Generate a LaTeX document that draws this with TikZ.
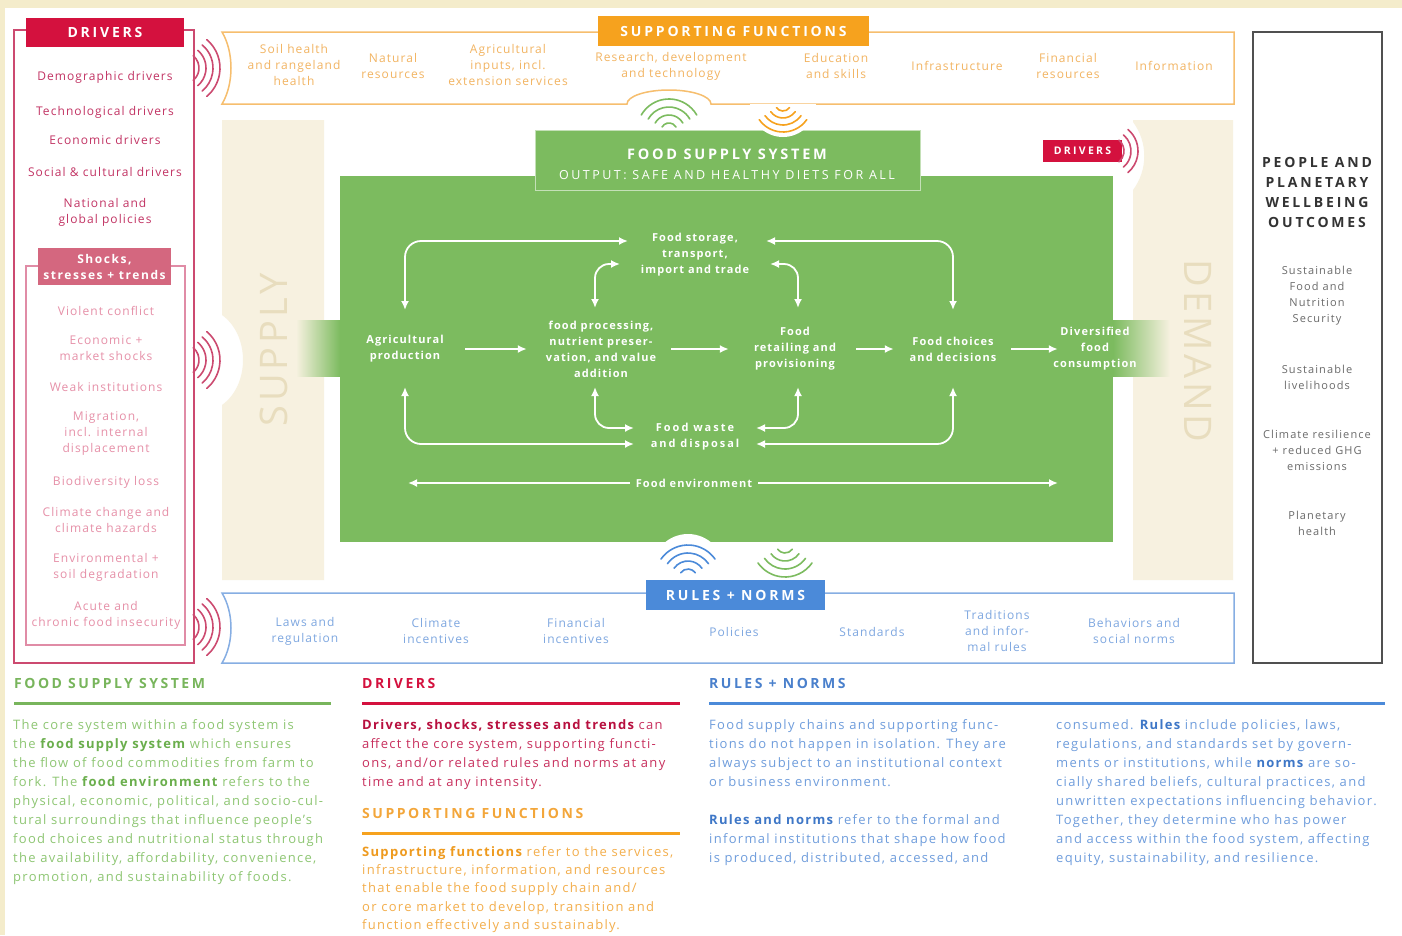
\documentclass[tikz,border=0pt]{standalone}
\usepackage{fontspec}
\setmainfont{Open Sans}
\usetikzlibrary{arrows.meta,positioning}
\definecolor{edgebg}{HTML}{F4ECCB}
\definecolor{drvred}{HTML}{D4113E}
\definecolor{drvline}{HTML}{CC4A70}
\definecolor{drvtxt}{HTML}{C23464}
\definecolor{shkred}{HTML}{D4677F}
\definecolor{shkline}{HTML}{E08CA6}
\definecolor{shktxt}{HTML}{E690A8}
\definecolor{suporange}{HTML}{F6A21E}
\definecolor{supline}{HTML}{F6BE6E}
\definecolor{suptxt}{HTML}{F2B462}
\definecolor{fsgreen}{HTML}{7CBB5F}
\definecolor{panelbg}{HTML}{F7F1E0}
\definecolor{paneltxt}{HTML}{E8DDBE}
\definecolor{rulblue}{HTML}{4B8AD9}
\definecolor{rulline}{HTML}{86AEE3}
\definecolor{rultxt}{HTML}{7EA7E0}
\definecolor{outgray}{HTML}{505050}
\definecolor{outhead}{HTML}{333333}
\definecolor{outtxt}{HTML}{6A6A6A}
\definecolor{hdgreen}{HTML}{78B55C}
\definecolor{bodygreen}{HTML}{8EC673}
\definecolor{boldgreen}{HTML}{6AAE4C}
\definecolor{bodyred}{HTML}{C8305E}
\definecolor{boldred}{HTML}{B8103F}
\definecolor{hdorange}{HTML}{F3A63A}
\definecolor{bodyorange}{HTML}{F3AE4C}
\definecolor{boldorange}{HTML}{EE9A1E}
\definecolor{hdblue}{HTML}{4A80CC}
\definecolor{bodyblue}{HTML}{6F9DDC}
\definecolor{boldblue}{HTML}{3E77C7}
\begin{document}
\begin{tikzpicture}[x=1pt,y=-1pt,
  every node/.style={inner sep=0pt},
  headbox/.style={fill=#1,text=white,font=\fontsize{14}{14}\selectfont\bfseries\addfontfeature{LetterSpace=20}},
  drvitem/.style={text=drvtxt,align=center,font=\fontsize{12}{16}\selectfont\addfontfeature{LetterSpace=9}},
  shkitem/.style={text=shktxt,align=center,font=\fontsize{12}{16}\selectfont\addfontfeature{LetterSpace=9}},
  supitem/.style={text=suptxt,align=center,font=\fontsize{12}{16}\selectfont\addfontfeature{LetterSpace=9}},
  rulitem/.style={text=rultxt,align=center,font=\fontsize{12}{16}\selectfont\addfontfeature{LetterSpace=9}},
  outitem/.style={text=outtxt,align=center,font=\fontsize{11}{16}\selectfont\addfontfeature{LetterSpace=10}},
  fsnode/.style={text=white,align=center,font=\fontsize{11}{16}\selectfont\bfseries\addfontfeature{LetterSpace=10}},
  flowarrow/.style={draw=white,line width=1.8pt,-{Latex[length=9pt,width=8pt]}},
  cycleflow/.style={draw=white,line width=1.8pt,{Latex[length=9pt,width=8pt]}-{Latex[length=9pt,width=8pt]},rounded corners=16pt},
  wavearc/.style={line width=1.6pt,line cap=round},
  bodyhead/.style={anchor=west,font=\fontsize{14}{14}\selectfont\bfseries\addfontfeature{LetterSpace=18}},
  bodytext/.style={anchor=north west,align=left,font=\fontsize{13}{19}\selectfont\addfontfeature{LetterSpace=10}}]
\useasboundingbox (0,0) rectangle (1402,935);
\clip (0,0) rectangle (1402,935);
\fill[edgebg] (0,0) rectangle (1402,935);
\fill[white] (5,8) rectangle (1402,935);

\draw[drvline,line width=1.5pt] (14,30) rectangle (194,663);
\draw[shkline,line width=1.2pt] (26,266) rectangle (185,645);
\node[headbox=drvred,minimum width=158pt,minimum height=29pt] (drvhead) at (105,32.5) {DRIVERS};
\node[headbox=shkred,minimum width=133pt,minimum height=37pt,align=center,font=\fontsize{12}{16}\selectfont\bfseries\addfontfeature{LetterSpace=13}] (shkhead) at (104.5,266.5) {Shocks,\\stresses + trends};

\node[drvitem] (demo) at (105,77) {Demographic drivers};
\node[drvitem] (techno) at (105,112) {Technological drivers};
\node[drvitem] (econ) at (105,140) {Economic drivers};
\node[drvitem] (social) at (105,172) {Social \& cultural drivers};
\node[drvitem] (policy) at (105,212) {National and\\global policies};

\node[shkitem] (conflict) at (106,311) {Violent conflict};
\node[shkitem] (market) at (106,348) {Economic +\\market shocks};
\node[shkitem] (weak) at (106,387) {Weak institutions};
\node[shkitem] (migr) at (106,434) {Migration,\\incl. internal\\displacement};
\node[shkitem] (biodiv) at (106,482) {Biodiversity loss};
\node[shkitem] (climate) at (106,520) {Climate change and\\climate hazards};
\node[shkitem] (soildeg) at (106,567) {Environmental +\\soil degradation};
\node[shkitem] (insec) at (106,615) {Acute and\\chronic food insecurity};

\foreach \y in {68,360,627}
  \foreach \r in {16,23,30,37}
    \draw[wavearc,drvline] (183,\y) ++(-50:\r) arc[start angle=-50,end angle=50,radius=\r];

\draw[supline,line width=1.5pt] (222,32) -- (1234,32) -- (1234,104) -- (711,104) arc[start angle=0,end angle=-180,x radius=42,y radius=14] -- (222,104) .. controls (234,84) and (234,52) .. (222,32) -- cycle;
\node[headbox=suporange,minimum width=271pt,minimum height=30pt] (suphead) at (733.5,31) {SUPPORTING FUNCTIONS};
\node[supitem] (soil) at (294,65) {Soil health\\and rangeland\\health};
\node[supitem] (natres) at (393,66) {Natural\\resources};
\node[supitem] (agrinp) at (508,65) {Agricultural\\inputs, incl.\\extension services};
\node[supitem] (research) at (671,66) {Research, development\\and technology};
\node[supitem] (educ) at (836,66) {Education\\and skills};
\node[supitem] (infra) at (957,66) {Infrastructure};
\node[supitem] (finres) at (1068,66) {Financial\\resources};
\node[supitem] (info) at (1174,66) {Information};

\fill[panelbg] (222,120) -- (324,120) -- (324,580) -- (222,580) -- (222,405) .. controls (250,385) and (250,335) .. (222,315) -- cycle;
\fill[panelbg] (1133,120) -- (1233,120) -- (1233,580) -- (1133,580) -- (1133,190) .. controls (1148,170) and (1148,142) .. (1133,122) -- cycle;
\node[rotate=90,text=paneltxt,font=\fontsize{38}{38}\selectfont\addfontfeature{LetterSpace=10}] (supply) at (274,350) {SUPPLY};
\node[rotate=-90,text=paneltxt,font=\fontsize{38}{38}\selectfont\addfontfeature{LetterSpace=10}] (demand) at (1198,351) {DEMAND};
\shade[left color=panelbg,right color=fsgreen] (296,320) rectangle (340,376);
\shade[left color=fsgreen,right color=panelbg] (1113,320) rectangle (1170,376);

\fill[fsgreen] (340,176) rectangle (1113,542);
\node[fill=fsgreen,draw=white!55!fsgreen,line width=1pt,minimum width=385pt,minimum height=60pt] (fsbox) at (727.5,160) {};
\node[text=white,font=\fontsize{14.5}{14.5}\selectfont\bfseries\addfontfeature{LetterSpace=19}] (fsname) at (727,154) {FOOD SUPPLY SYSTEM};
\node[text=white,font=\fontsize{12.5}{12.5}\selectfont\addfontfeature{LetterSpace=20}] (fsout) at (727,175) {OUTPUT: SAFE AND HEALTHY DIETS FOR ALL};

\foreach \r in {8,16,24,32}
  \draw[wavearc,fsgreen] (669,131) ++(-150:\r) arc[start angle=-150,end angle=-30,radius=\r];
\fill[white] (750,104) arc[start angle=180,end angle=0,radius=33] -- cycle;
\foreach \r in {8,15,22,29}
  \draw[wavearc,suporange] (783,103) ++(35:\r) arc[start angle=35,end angle=145,radius=\r];

\node[headbox=drvred,minimum width=79pt,minimum height=22pt,font=\fontsize{10.5}{10.5}\selectfont\bfseries\addfontfeature{LetterSpace=22}] (drvtag) at (1082.5,151) {DRIVERS};
\foreach \r in {14,21,28}
  \draw[wavearc,drvline] (1110,151) ++(-50:\r) arc[start angle=-50,end angle=50,radius=\r];

\node[fsnode,minimum width=80pt] (agri) at (405,349) {Agricultural\\production};
\node[fsnode,minimum width=116pt] (proc) at (601,349) {food processing,\\nutrient preser-\\vation, and value\\addition};
\node[fsnode,minimum width=84pt] (retail) at (795,349) {Food\\retailing and\\provisioning};
\node[fsnode,minimum width=88pt] (choices) at (953,349) {Food choices\\and decisions};
\node[fsnode,minimum width=86pt] (cons) at (1095,349) {Diversified\\food\\consumption};
\node[fsnode,minimum width=112pt] (storage) at (695,255) {Food storage,\\transport,\\import and trade};
\node[fsnode,minimum width=112pt,font=\fontsize{11}{16}\selectfont\bfseries\addfontfeature{LetterSpace=18}] (waste) at (695,437) {Food waste\\and disposal};
\node[fsnode] (env) at (694,483) {Food environment};
\coordinate (envL) at (408,483);
\coordinate (envR) at (1058,483);

\draw[flowarrow] ([xshift=20pt]agri.east) -- ([xshift=-16pt]proc.west);
\draw[flowarrow] ([xshift=12pt]proc.east) -- ([xshift=-24pt]retail.west);
\draw[flowarrow] ([xshift=19pt]retail.east) -- ([xshift=-15pt]choices.west);
\draw[flowarrow] ([xshift=14pt]choices.east) -- ([xshift=6pt]cons.west);

\draw[cycleflow] ([xshift=-67pt,yshift=14pt]storage.center) -| ([yshift=39pt]agri.center);
\draw[cycleflow] ([xshift=71pt,yshift=14pt]storage.center) -| ([yshift=39pt]choices.center);
\draw[cycleflow,rounded corners=14pt] ([xshift=-75pt,yshift=-9pt]storage.center) -| ([xshift=-6pt,yshift=41pt]proc.center);
\draw[cycleflow,rounded corners=14pt] ([xshift=75pt,yshift=-9pt]storage.center) -| ([xshift=3pt,yshift=41pt]retail.center);
\draw[cycleflow] ([xshift=-61pt,yshift=-7pt]waste.center) -| ([yshift=-38pt]agri.center);
\draw[cycleflow] ([xshift=61pt,yshift=-7pt]waste.center) -| ([yshift=-38pt]choices.center);
\draw[cycleflow,rounded corners=14pt] ([xshift=-61pt,yshift=9pt]waste.center) -| ([xshift=-6pt,yshift=-38pt]proc.center);
\draw[cycleflow,rounded corners=14pt] ([xshift=61pt,yshift=9pt]waste.center) -| ([xshift=3pt,yshift=-38pt]retail.center);
\draw[flowarrow] ([xshift=-6pt]env.west) -- (envL);
\draw[flowarrow] ([xshift=6pt]env.east) -- (envR);

\draw[rulline,line width=1.5pt] (222,593) -- (1234,593) -- (1234,663) -- (222,663) .. controls (234,643) and (234,613) .. (222,593) -- cycle;
\fill[white] (688,570) circle[radius=36];
\foreach \r in {9,17,25,33}
  \draw[wavearc,fsgreen] (785,544) ++(35:\r) arc[start angle=35,end angle=145,radius=\r];
\node[headbox=rulblue,minimum width=179pt,minimum height=30pt] (rulhead) at (735.5,595) {RULES + NORMS};
\foreach \r in {9,17,25,33}
  \draw[wavearc,rulblue] (688,578) ++(-145:\r) arc[start angle=-145,end angle=-35,radius=\r];
\node[rulitem] (laws) at (305,631) {Laws and\\regulation};
\node[rulitem] (climinc) at (436,631) {Climate\\incentives};
\node[rulitem] (fininc) at (576,631) {Financial\\incentives};
\node[rulitem] (policies) at (734,632) {Policies};
\node[rulitem] (standards) at (872,632) {Standards};
\node[rulitem] (tradit) at (997,631) {Traditions\\and infor-\\mal rules};
\node[rulitem] (behav) at (1134,631) {Behaviors and\\social norms};

\draw[outgray,line width=2pt] (1253,32) rectangle (1382,663);
\node[text=outhead,align=center,font=\fontsize{14}{20}\selectfont\bfseries\addfontfeature{LetterSpace=20}] (outtitle) at (1317,192) {PEOPLE AND\\PLANETARY\\WELLBEING\\OUTCOMES};
\node[outitem] (fns) at (1317,296) {Sustainable\\Food and\\Nutrition\\Security};
\node[outitem] (liveli) at (1317,377) {Sustainable\\livelihoods};
\node[outitem] (ghg) at (1317,450) {Climate resilience\\+ reduced GHG\\emissions};
\node[outitem] (planet) at (1317,523) {Planetary\\health};

\node[bodyhead,text=hdgreen] (fsshead) at (14,683) {FOOD SUPPLY SYSTEM};
\draw[hdgreen,line width=3pt] (14,703) -- (331,703);
\node[bodytext,text=bodygreen] (fsstext) at (13,719) {The core system within a food system is\\the {\bfseries\color{boldgreen}food supply system} which ensures\\the flow of food commodities from farm to\\fork. The {\bfseries\color{boldgreen}food environment} refers to the\\physical, economic, political, and socio-cul-\\tural surroundings that influence people's\\food choices and nutritional status through\\the availability, affordability, convenience,\\promotion, and sustainability of foods.};

\node[bodyhead,text=drvred] (drvbhead) at (362,683) {DRIVERS};
\draw[drvred,line width=3pt] (362,703) -- (680,703);
\node[bodytext,text=bodyred] (drvtext) at (362,719) {{\bfseries\color{boldred}Drivers, shocks, stresses and trends} can\\affect the core system, supporting functi-\\ons, and/or related rules and norms at any\\time and at any intensity.};

\node[bodyhead,text=hdorange] (supbhead) at (362,813) {SUPPORTING FUNCTIONS};
\draw[suporange,line width=3pt] (362,833) -- (680,833);
\node[bodytext,text=bodyorange,font=\fontsize{13}{18.3}\selectfont\addfontfeature{LetterSpace=10}] (suptext) at (362,846) {{\bfseries\color{boldorange}Supporting functions} refer to the services,\\infrastructure, information, and resources\\that enable the food supply chain and/\\or core market to develop, transition and\\function effectively and sustainably.};

\node[bodyhead,text=hdblue] (rulbhead) at (709,683) {RULES + NORMS};
\draw[rulblue,line width=3pt] (709,703) -- (1385,703);
\node[bodytext,text=bodyblue] (rultext) at (709,719) {Food supply chains and supporting func-\\tions do not happen in isolation. They are\\always subject to an institutional context\\or business environment.\\[19pt]{\bfseries\color{boldblue}Rules and norms} refer to the formal and\\informal institutions that shape how food\\is produced, distributed, accessed, and};
\node[bodytext,text=bodyblue] (rultext2) at (1056,719) {consumed. {\bfseries\color{boldblue}Rules} include policies, laws,\\regulations, and standards set by govern-\\ments or institutions, while {\bfseries\color{boldblue}norms} are so-\\cially shared beliefs, cultural practices, and\\unwritten expectations influencing behavior.\\Together, they determine who has power\\and access within the food system, affecting\\equity, sustainability, and resilience.};
\end{tikzpicture}
\end{document}
